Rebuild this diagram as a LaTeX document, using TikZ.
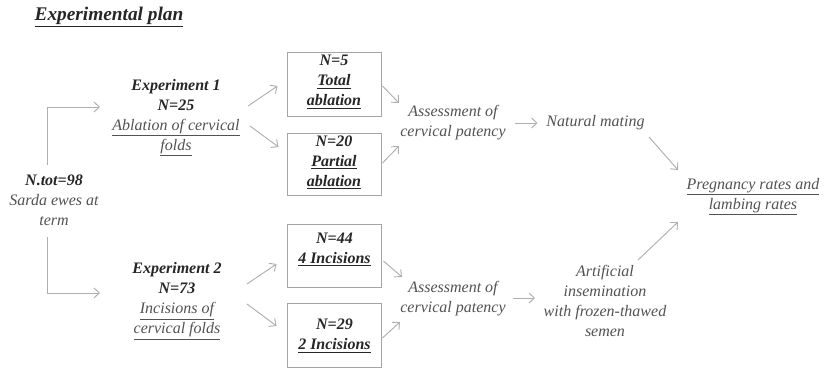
\documentclass[tikz,border=0pt]{standalone}
\usepackage{fontspec}
\setmainfont{Liberation Serif}
\usetikzlibrary{arrows.meta}
\definecolor{inkbold}{RGB}{38,38,38}
\definecolor{inktext}{RGB}{82,82,82}
\definecolor{boxline}{RGB}{165,165,165}
\definecolor{arrline}{RGB}{175,175,175}
\newcommand{\headtxt}[1]{\textcolor{inkbold}{\bfseries #1}}
\tikzset{
  plain/.style={font=\fontsize{12}{15}\selectfont\itshape, text=inktext, align=center, inner sep=0pt},
  strong/.style={plain, font=\fontsize{12}{15}\selectfont\bfseries\itshape, text=inkbold},
  panel/.style={draw=boxline, line width=0.7pt, minimum width=70.5pt, inner sep=0pt},
  flow/.style={draw=arrline, line width=0.7pt, -{Straight Barb[length=4pt,width=7.5pt]}},
}
\begin{document}
\begin{tikzpicture}[x=0.75pt,y=0.75pt,yscale=-1,xscale=1]
\useasboundingbox (0,0) rectangle (825,370);

% Title
\node[strong, font=\fontsize{14.5}{17}\selectfont\bfseries\itshape] (title) at (109,17) {\underline{Experimental plan}};

% Left column
\node[plain] (ntot) at (54,200) {\headtxt{N.tot=98}\\Sarda ewes at\\term};
\node[plain] (exp1) at (176,117.5) {\headtxt{Experiment 1}\\\headtxt{N=25}\\\underline{Ablation of cervical}\\\underline{folds}};
\node[plain] (exp2) at (177,301) {\headtxt{Experiment 2}\\\headtxt{N=73}\\\underline{Incisions of}\\\underline{cervical folds}};

% Boxes
\node[panel, minimum height=48pt] (b1) at (334,84) {};
\node[panel, minimum height=46.5pt] (b2) at (334,164) {};
\node[panel, minimum height=47.25pt] (b3) at (334.5,255.5) {};
\node[panel, minimum height=48pt] (b4) at (334.5,335) {};
\node[strong] (n1) at (334,82) {N=5\\\underline{Total}\\\underline{ablation}};
\node[strong] (n2) at (334,162.5) {N=20\\\underline{Partial}\\\underline{ablation}};
\node[strong] (n3) at (334.5,249.5) {N=44\\\underline{4 Incisions}};
\node[strong] (n4) at (334.5,336) {N=29\\\underline{2 Incisions}};

% Right part
\node[plain] (ass1) at (453,123) {Assessment of\\cervical patency};
\node[plain] (ass2) at (453,299) {Assessment of\\cervical patency};
\node[plain] (nat) at (595.5,123) {Natural mating};
\node[plain] (ai) at (605,300.5) {Artificial\\insemination\\with frozen-thawed\\semen};
\node[plain] (preg) at (753,196.5) {\underline{Pregnancy rates and}\\\underline{lambing rates}};

% Connectors
\draw[flow] ([shift={(-7,-35)}]ntot.center) |- ([shift={(-76,-10.5)}]exp1.center);
\draw[flow] ([shift={(-7,37)}]ntot.center) |- ([shift={(-77,-8)}]exp2.center);
\draw[flow] ([shift={(72,-11.5)}]exp1.center) -- ([shift={(-9,2)}]b1.west);
\draw[flow] ([shift={(74,8.5)}]exp1.center) -- ([shift={(-8,-17)}]b2.west);
\draw[flow] ([shift={(1,2)}]b1.east) -- ([shift={(-54,-20)}]ass1.center);
\draw[flow] ([shift={(1,-1)}]b2.east) -- ([shift={(-54,23)}]ass1.center);
\draw[flow] ([shift={(62,0)}]ass1.center) -- ([shift={(-58,0)}]nat.center);
\draw[flow] ([shift={(70,-17)}]exp2.center) -- ([shift={(-10.5,8.5)}]b3.west);
\draw[flow] ([shift={(70,3)}]exp2.center) -- ([shift={(-10.5,-9)}]b4.west);
\draw[flow] ([shift={(1.5,5.5)}]b3.east) -- ([shift={(-51,-22)}]ass2.center);
\draw[flow] ([shift={(0.5,3)}]b4.east) -- ([shift={(-53,23)}]ass2.center);
\draw[flow] ([shift={(60,-1)}]ass2.center) -- ([shift={(-70,-2.5)}]ai.center);
\draw[flow] ([shift={(53.5,14)}]nat.center) -- ([shift={(-75,-26.5)}]preg.center);
\draw[flow] ([shift={(33,-40.5)}]ai.center) -- ([shift={(-75,25.5)}]preg.center);

\end{tikzpicture}
\end{document}
